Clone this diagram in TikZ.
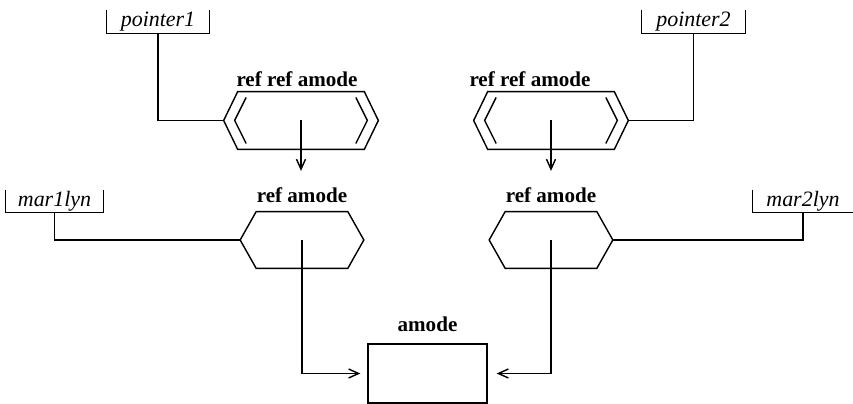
\documentclass[tikz,border=0pt]{standalone}
\usepackage{fontspec}
\setmainfont{Liberation Serif}
\usetikzlibrary{positioning,arrows.meta}

% hexagon outline round an empty node (#1 = node, #2 = indent)
\newcommand{\hexframe}[2]{%
  \draw [outline] (#1.west) -- ([xshift=#2]#1.north west) -- ([xshift=-#2]#1.north east)
    -- (#1.east) -- ([xshift=-#2]#1.south east) -- ([xshift=#2]#1.south west) -- cycle;}
% inner chevrons of the double hexagon
\newcommand{\hexinner}[1]{%
  \draw [outline] ([shift={(0.45cm,0.46cm)}]#1.west) -- ([xshift=0.22cm]#1.west) -- ([shift={(0.45cm,-0.46cm)}]#1.west);
  \draw [outline] ([shift={(-0.45cm,0.46cm)}]#1.east) -- ([xshift=-0.22cm]#1.east) -- ([shift={(-0.45cm,-0.46cm)}]#1.east);}
% open slot: left, bottom and right side
\newcommand{\slotframe}[1]{%
  \draw [outline] (#1.north west) -- (#1.south west) -- (#1.south east) -- (#1.north east);}

\begin{document}
\begin{tikzpicture}[
    x=0.02cm, y=-0.02cm,
    outline/.style={line width=0.8pt, line join=miter},
    dhex/.style={rectangle, inner sep=0pt, minimum width=3.08cm, minimum height=1.14cm},
    hexa/.style={rectangle, inner sep=0pt, minimum width=2.46cm, minimum height=1.12cm},
    slot/.style={rectangle, inner sep=0pt, font=\fontsize{12.5}{14}\itshape},
    tag/.style={inner sep=0pt, font=\fontsize{12}{14}\bfseries},
    box/.style={draw, rectangle, line width=0.8pt, minimum width=2.38cm, minimum height=1.18cm},
    link/.style={line width=0.8pt},
    arrow/.style={-{Straight Barb[length=2mm,width=1.8mm]}, line width=0.8pt}
]
    \useasboundingbox (0,0) rectangle (853,404);

    % slots
    \node (p1) [slot, minimum width=2.04cm, minimum height=0.46cm] at (158,21.5) {pointer1};
    \node (p2) [slot, minimum width=2.06cm, minimum height=0.46cm] at (693.5,21.5) {pointer2};
    \node (m1) [slot, minimum width=1.94cm, minimum height=0.44cm] at (54.5,201) {mar1lyn};
    \node (m2) [slot, minimum width=2.00cm, minimum height=0.44cm] at (803,201) {mar2lyn};
    \slotframe{p1}
    \slotframe{p2}
    \slotframe{m1}
    \draw [outline] (m2.north west) -- (m2.south west) -- (m2.south east);

    % ref ref amode
    \node (rra1) [dhex] at (301,120.5) {};
    \node (rra2) [dhex] at (551,120.5) {};
    \hexframe{rra1}{0.28cm}
    \hexframe{rra2}{0.28cm}
    \hexinner{rra1}
    \hexinner{rra2}
    \node (rra1lab) [tag, above=0.1cm of rra1, xshift=-0.08cm] {ref ref amode};
    \node (rra2lab) [tag, above=0.1cm of rra2, xshift=-0.42cm] {ref ref amode};

    % ref amode
    \node (ra1) [hexa] at (302,240) {};
    \node (ra2) [hexa] at (551,240) {};
    \hexframe{ra1}{0.32cm}
    \hexframe{ra2}{0.32cm}
    \node (ra1lab) [tag, above=0.18cm of ra1] {ref amode};
    \node (ra2lab) [tag, above=0.18cm of ra2] {ref amode};

    % amode
    \node (am) [box] at (427.5,373.5) {};
    \node (amlab) [tag, above=0.22cm of am] {amode};

    % links from the slots
    \draw [link] (p1.south) |- (rra1.west);
    \draw [link] (p2.south) |- (rra2.east);
    \draw [link] (m1.south) |- (ra1.west);
    \draw [link] (m2.south) |- (ra2.east);

    % dereference arrows
    \draw [arrow] (rra1.center) -- ([yshift=0.32cm]rra1.center |- ra1lab.north);
    \draw [arrow] (rra2.center) -- ([yshift=0.32cm]rra2.center |- ra2lab.north);
    \draw [arrow] (ra1.center) |- ([xshift=-0.14cm]am.west);
    \draw [arrow] (ra2.center) |- ([xshift=0.18cm]am.east);

\end{tikzpicture}
\end{document}
